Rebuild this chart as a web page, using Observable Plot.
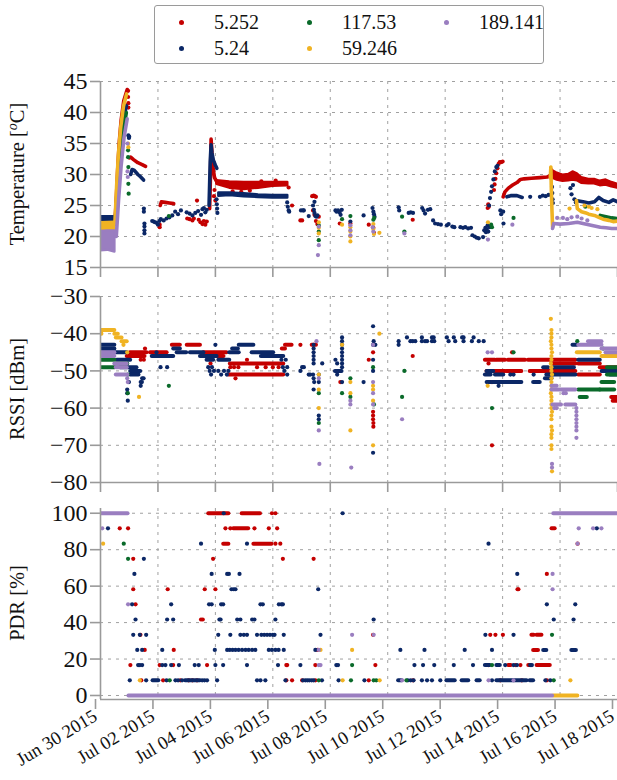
<!DOCTYPE html>
<html><head><meta charset="utf-8">
<script src="https://cdn.jsdelivr.net/npm/d3@7"></script>
<script src="https://cdn.jsdelivr.net/npm/@observablehq/plot@0.6"></script>
<style>
body{margin:0;background:#fff;font-family:"Liberation Serif","Tinos","DejaVu Serif",serif;}
#wrap{position:relative;width:617px;height:780px;overflow:hidden;background:#fff;}
#legend{position:absolute;left:154px;top:5px;width:390px;height:59px;border:1.5px solid #9a9a9a;border-radius:3px;box-sizing:border-box;}
.li{position:absolute;font-size:20px;line-height:20px;color:#111;}
.ld{position:absolute;width:5px;height:5px;border-radius:50%;}
#ylabels{position:absolute;left:0;top:0;}
</style></head>
<body><div id="wrap"><div id="legend"></div></div>
<script>
// ---------- series ----------
const series = ["5.252", "5.24", "117.53", "59.246", "189.141"];
const colors = ["#c40000", "#0b2766", "#0a6a2a", "#f0b323", "#9a7ec0"];
const legendCols = [0, 0, 1, 1, 2];
const legendRows = [0, 1, 0, 1, 0];
// x axis: days since Jun 30 2015
const xTickDays = [0, 2, 4, 6, 8, 10, 12, 14, 16, 18];
const xDomainDays = [0, 18];
// ---------- Temperature [°C] ----------
const tempTicks = [15, 20, 25, 30, 35, 40, 45];
// dense noisy bands: [series, id, day, low, high]
const tempBands = [
  ["5.24","a",0,22.3,23.2],["5.24","a",0.5,22.3,23.2],
  ["59.246","a",0,20.1,22.2],["59.246","a",0.5,20.2,22.3],
  ["189.141","a",0,17.7,20.8],["189.141","a",0.25,17.8,20.9],["189.141","a",0.5,17.5,20.9],
  ["5.252","p",4.05,28.4,29.0],["5.252","p",4.5,27.8,28.8],["5.252","p",5.0,27.6,28.7],["5.252","p",5.5,27.8,28.7],["5.252","p",6.0,28.1,28.7],["5.252","p",6.52,28.2,28.7],
  ["5.24","p",4.12,26.5,27.0],["5.24","p",4.5,26.6,27.0],["5.24","p",5.0,26.4,26.9],["5.24","p",5.5,26.3,26.7],["5.24","p",6.0,26.2,26.6],["5.24","p",6.52,26.2,26.6],
  ["5.252","q",15.68,29.3,31.0],["5.252","q",15.75,29.4,30.6],["5.252","q",15.9,29.1,30.2],["5.252","q",16.1,28.9,29.9],["5.252","q",16.3,29.0,30.0],["5.252","q",16.45,29.1,30.4],["5.252","q",16.6,29.0,30.1],["5.252","q",16.75,28.6,29.5],["5.252","q",17.0,28.5,29.2],["5.252","q",17.2,28.5,29.2],["5.252","q",17.4,28.2,28.9],["5.252","q",17.6,28.3,29.1],["5.252","q",17.8,28.0,28.7],["5.252","q",18.0,27.8,28.4]
];
// dense traces: [series, id, day, °C]
const tempTraces = [
  ["5.252","r0",0.5,22.0],["5.252","r0",0.55,26],["5.252","r0",0.6,31],["5.252","r0",0.65,35],["5.252","r0",0.72,38.8],["5.252","r0",0.81,41.9],["5.252","r0",0.93,43.7],
  ["5.252","r1",1.0,32.7],["5.252","r1",1.05,32.8],["5.252","r1",1.15,32.4],["5.252","r1",1.3,31.9],["5.252","r1",1.45,31.6],["5.252","r1",1.57,31.3],
  ["5.252","r2",2.08,25.0],["5.252","r2",2.12,25.6],["5.252","r2",2.25,25.5],["5.252","r2",2.4,25.4],["5.252","r2",2.55,25.3],
  ["5.252","r3",3.8,24.5],["5.252","r3",3.83,30],["5.252","r3",3.85,35.7],["5.252","r3",3.88,33.5],["5.252","r3",3.92,31],["5.252","r3",3.97,29.5],["5.252","r3",4.05,28.8],
  ["5.252","r7",14.02,26.4],["5.252","r7",14.08,27.2],["5.252","r7",14.2,27.8],["5.252","r7",14.35,28.3],["5.252","r7",14.5,28.7],["5.252","r7",14.62,29.2],["5.252","r7",14.75,29.3],["5.252","r7",15.0,29.4],["5.252","r7",15.3,29.5],["5.252","r7",15.55,29.6],["5.252","r7",15.66,29.8],
  ["5.24","n0",0.52,23],["5.24","n0",0.6,29],["5.24","n0",0.68,34],["5.24","n0",0.77,38],["5.24","n0",0.9,41.1],
  ["5.24","n1",1.05,30.0],["5.24","n1",1.1,30.8],["5.24","n1",1.17,30.7],["5.24","n1",1.3,30.0],["5.24","n1",1.4,29.6],["5.24","n1",1.5,29.1],
  ["5.24","n2",3.78,25],["5.24","n2",3.82,32],["5.24","n2",3.85,34.8],["5.24","n2",3.88,33.5],["5.24","n2",3.93,32.3],["5.24","n2",4.0,31.5],["5.24","n2",4.05,31.0],
  ["5.24","n4",14.15,26.4],["5.24","n4",14.3,26.6],["5.24","n4",14.5,26.6],["5.24","n4",14.68,26.3],
  ["5.24","n5",16.55,25.8],["5.24","n5",16.8,25.6],["5.24","n5",17.0,25.4],["5.24","n5",17.2,25.6],["5.24","n5",17.35,26.3],["5.24","n5",17.5,25.8],["5.24","n5",17.7,25.5],["5.24","n5",17.85,25.9],["5.24","n5",18.0,25.6],
  ["117.53","g0",0.54,22],["117.53","g0",0.62,28],["117.53","g0",0.7,33],["117.53","g0",0.79,37],["117.53","g0",0.9,40],
  ["117.53","g1",17.4,23.4],["117.53","g1",17.6,23.2],["117.53","g1",17.8,23.0],["117.53","g1",18.0,22.9],
  ["59.246","y0",0.5,22],["59.246","y0",0.56,28],["59.246","y0",0.62,33],["59.246","y0",0.7,37.5],["59.246","y0",0.8,41],["59.246","y0",0.91,43],
  ["59.246","y1",15.66,29.5],["59.246","y1",15.68,31.2],["59.246","y1",15.7,27],["59.246","y1",15.72,24],["59.246","y1",15.74,21.5],
  ["59.246","y2",16.57,25.8],["59.246","y2",16.6,24.5],["59.246","y2",16.75,24.0],["59.246","y2",16.9,23.8],["59.246","y2",17.0,23.6],["59.246","y2",17.2,23.4],["59.246","y2",17.35,23.1],["59.246","y2",17.5,22.8],["59.246","y2",17.7,22.6],["59.246","y2",17.85,22.4],["59.246","y2",18.0,22.5],
  ["189.141","p0",0.55,20],["189.141","p0",0.63,26],["189.141","p0",0.72,31.5],["189.141","p0",0.82,36],["189.141","p0",0.93,39],
  ["189.141","p1",15.74,21.3],["189.141","p1",15.78,22.1],["189.141","p1",16.0,22.0],["189.141","p1",16.3,22.1],["189.141","p1",16.6,22.3],["189.141","p1",16.8,22.1],["189.141","p1",17.0,21.9],["189.141","p1",17.2,21.7],["189.141","p1",17.4,21.5],["189.141","p1",17.6,21.4],["189.141","p1",17.8,21.3],["189.141","p1",18.0,21.3]
];
// single readings: [series, day, °C]
const tempDots = [
  ["5.252",0.96,43.5],["5.252",0.96,42.5],["5.252",0.97,41.5],["5.252",0.97,40.8],["5.252",2.06,21.9],["5.252",2.06,21.5],
  ["5.252",3.02,22.9],["5.252",3.1,22.8],["5.252",3.2,22.6],["5.252",3.25,22.9],["5.252",3.36,25.8],["5.252",3.42,22.7],["5.252",3.48,22.3],["5.252",3.55,22.0],["5.252",3.6,22.5],["5.252",3.65,21.9],["5.252",3.7,22.4],
  ["5.252",3.95,26.5],["5.252",3.97,27.5],["5.252",4.0,25.8],["5.252",4.6,27.3],["5.252",4.9,27.2],["5.252",5.2,27.4],["5.252",5.6,28.9],["5.252",6.1,29.0],["5.252",6.55,27.9],
  ["5.252",6.67,25.0],["5.252",6.96,22.6],["5.252",7.02,22.6],["5.252",7.37,26.5],["5.252",7.42,26.6],["5.252",7.46,26.5],["5.252",7.5,26.4],["5.252",7.4,24.2],["5.252",7.45,23.5],["5.252",7.5,22.5],["5.252",7.55,22.0],["5.252",7.6,23.2],
  ["5.252",8.33,22.1],["5.252",8.7,22.1],["5.252",9.34,21.9],["5.252",9.5,21.4],["5.252",9.52,20.6],["5.252",10.87,22.7],
  ["5.252",13.48,24.6],["5.252",13.5,25.2],["5.252",13.52,24.8],["5.252",13.7,27.5],["5.252",13.72,28.4],["5.252",13.75,29.3],["5.252",13.78,30.2],["5.252",13.82,31.0],["5.252",13.86,31.7],["5.252",13.9,32.0],["5.252",13.95,32.0],["5.252",14.0,32.1],
  ["5.24",0.97,36.3],["5.24",0.99,35.9],["5.24",1.0,36.1],["5.24",1.51,24.5],["5.24",1.51,24.0],["5.24",1.53,22.1],["5.24",1.53,21.6],["5.24",1.53,21.0],["5.24",1.53,20.5],
  ["5.24",1.8,22.5],["5.24",1.85,22.4],["5.24",1.9,22.3],["5.24",1.95,22.2],["5.24",2.0,21.9],["5.24",2.05,22.5],["5.24",2.1,22.8],["5.24",2.2,22.6],["5.24",2.3,22.9],["5.24",2.4,23.1],["5.24",2.5,23.4],["5.24",2.6,24.0],["5.24",2.7,23.6],["5.24",2.8,24.2],
  ["5.24",3.0,23.9],["5.24",3.1,23.7],["5.24",3.2,23.4],["5.24",3.3,23.8],["5.24",3.4,24.1],["5.24",3.5,23.5],["5.24",3.55,24.4],["5.24",3.6,24.6],["5.24",3.65,23.9],["5.24",3.7,24.3],
  ["5.24",4.04,26.0],["5.24",4.05,25.2],["5.24",4.06,24.5],["5.24",4.07,23.8],
  ["5.24",6.5,25.5],["5.24",6.52,24.8],["5.24",6.55,24.2],["5.24",6.57,24.0],["5.24",6.98,24.2],["5.24",7.05,24.2],["5.24",7.08,24.2],["5.24",7.25,23.3],["5.24",7.4,25.0],["5.24",7.43,24.3],["5.24",7.45,23.8],["5.24",7.48,23.3],["5.24",7.52,23.2],["5.24",7.55,23.4],["5.24",7.45,25.6],
  ["5.24",8.18,24.2],["5.24",8.22,24.0],["5.24",8.27,24.2],["5.24",8.32,23.9],["5.24",8.36,23.5],["5.24",8.4,24.3],["5.24",8.7,22.4],["5.24",9.16,23.4],["5.24",9.47,24.6],["5.24",9.5,24.0],["5.24",9.52,23.6],["5.24",9.54,23.2],
  ["5.24",10.38,24.7],["5.24",10.4,24.2],["5.24",10.73,23.8],["5.24",10.8,23.9],["5.24",10.88,23.8],["5.24",11.2,24.6],["5.24",11.25,24.2],["5.24",11.3,23.7],["5.24",11.4,24.3],["5.24",11.48,24.4],["5.24",11.58,22.6],["5.24",11.65,22.1],["5.24",11.75,22.0],["5.24",11.85,21.9],
  ["5.24",12.06,21.8],["5.24",12.12,22.0],["5.24",12.25,21.6],["5.24",12.32,21.5],["5.24",12.53,21.5],["5.24",12.62,21.4],["5.24",12.7,21.5],["5.24",12.8,21.3],["5.24",12.9,21.4],["5.24",12.95,20.2],["5.24",13.03,20.0],["5.24",13.1,19.8],["5.24",13.17,19.7],["5.24",13.32,19.9],
  ["5.24",13.36,21.0],["5.24",13.4,21.4],["5.24",13.42,20.7],["5.24",13.45,21.2],["5.24",13.48,21.8],["5.24",13.5,20.8],["5.24",13.55,21.5],
  ["5.24",13.53,25.0],["5.24",13.56,26.2],["5.24",13.6,27.2],["5.24",13.63,28.1],["5.24",13.68,29.2],["5.24",13.73,30.5],["5.24",13.78,31.2],["5.24",13.82,31.4],
  ["5.24",13.92,24.2],["5.24",13.95,23.6],["5.24",14.02,24.0],["5.24",14.03,22.1],
  ["5.24",14.96,26.4],["5.24",15.3,26.4],["5.24",15.4,26.6],["5.24",15.5,26.5],["5.24",15.6,26.7],
  ["5.24",15.72,28],["5.24",15.73,27],["5.24",15.74,26],["5.24",15.75,25.4],["5.24",16.36,27.8],["5.24",16.4,26.8],["5.24",16.45,28.3],["5.24",16.5,26.0],["5.24",16.55,25.5],
  ["117.53",0.96,33.9],["117.53",0.96,32.8],["117.53",0.97,31.2],["117.53",0.97,28.5],["117.53",0.98,26.9],["117.53",2.38,23.3],
  ["117.53",7.6,21.8],["117.53",7.6,20.8],["117.53",7.6,19.4],["117.53",8.41,22.8],["117.53",8.7,23.3],["117.53",9.5,22.7],["117.53",9.53,23.0],["117.53",10.5,23.2],["117.53",10.58,20.8],
  ["117.53",13.63,21.5],["117.53",13.6,21.9],["117.53",14.38,23.0],["117.53",16.88,24.8],
  ["59.246",0.96,35],["59.246",0.97,34.4],["59.246",7.6,22.3],["59.246",7.6,21.4],["59.246",7.6,20.5],["59.246",8.41,21.9],["59.246",8.7,21.5],["59.246",8.7,20.8],["59.246",8.7,20.0],["59.246",8.7,19.2],
  ["59.246",9.5,22.0],["59.246",9.5,21.2],["59.246",9.52,20.4],["59.246",9.71,20.6],["59.246",13.49,22.3],["59.246",16.33,24.5],
  ["59.246",16.85,25.0],["59.246",17.0,24.8],["59.246",17.1,24.6],["59.246",17.3,24.4],
  ["189.141",0.94,30.5],["189.141",0.95,29.6],["189.141",0.94,35],["189.141",7.6,21.6],["189.141",7.6,18.6],["189.141",7.57,17.0],["189.141",8.7,21.8],["189.141",8.7,21.0],["189.141",8.7,20.2],
  ["189.141",9.48,21.5],["189.141",9.5,20.8],["189.141",10.58,20.5],["189.141",13.49,19.5],["189.141",14.34,21.9],
  ["189.141",15.9,23.0],["189.141",16.1,23.0],["189.141",16.25,22.8],["189.141",16.4,23.1],["189.141",16.6,23.2],["189.141",16.75,22.9],["189.141",16.95,22.6]
];
// ---------- RSSI [dBm] ----------
const rssiTicks = [-80, -70, -60, -50, -40, -30];
// runs of consecutive equal readings: [series, day from, day to, dBm]
const rssiRuns = [
  ["5.252",0.93,1.55,-46],["5.252",1.04,1.62,-45],["5.252",1.74,2.32,-45],["5.252",2.5,2.78,-43],["5.252",3.02,3.48,-43],["5.252",3.6,3.95,-45],["5.252",3.6,3.9,-46],["5.252",4.0,4.4,-45],["5.252",4.0,4.3,-46],
  ["5.252",4.47,6.38,-51],["5.252",4.52,6.38,-48],["5.252",6.33,6.44,-44],["5.252",6.44,6.67,-43],["5.252",7.37,7.52,-43],
  ["5.252",13.4,13.75,-47],["5.252",13.8,14.1,-47],["5.252",14.2,14.8,-47],["5.252",14.9,16.55,-47],["5.252",13.46,13.6,-50],["5.252",13.7,14.1,-50],["5.252",14.15,14.67,-50],["5.252",14.96,16.55,-50],["5.252",15.75,16.55,-48],
  ["5.252",16.65,17.4,-48],["5.252",16.65,17.4,-51],["5.252",17.4,18.0,-49],["5.252",17.8,18.0,-57],["5.252",17.85,18.0,-58],
  ["5.24",0,0.5,-43],["5.24",0,0.5,-44],["5.24",0,0.93,-45],["5.24",0.58,1.05,-47],["5.24",0.7,1.27,-49],["5.24",1.05,1.4,-50],["5.24",1.05,1.34,-51],
  ["5.24",1.8,2.55,-46],["5.24",2.55,2.78,-44],["5.24",2.67,3.0,-45],["5.24",3.13,3.6,-45],["5.24",3.48,4.06,-46],["5.24",3.71,3.94,-47],["5.24",4.12,4.5,-47],["5.24",4.5,4.83,-45],["5.24",4.6,4.8,-44],["5.24",4.83,5.34,-43],["5.24",5.28,6.03,-45],["5.24",5.6,6.38,-46],
  ["5.24",8.18,8.41,-50],["5.24",13.46,13.69,-50],["5.24",13.4,13.6,-51],["5.24",13.75,14.04,-51],["5.24",13.46,13.6,-53],["5.24",13.65,14.67,-53],["5.24",15.08,15.31,-53],["5.24",15.49,15.72,-52],["5.24",15.43,15.6,-49],
  ["5.24",15.54,16.55,-51],["5.24",15.78,16.5,-49],["5.24",16.45,16.6,-43],["5.24",16.65,17.4,-47],["5.24",17.46,18.0,-50],["5.24",17.75,18.0,-51],
  ["117.53",0,0.5,-47],["117.53",0,0.5,-49],["117.53",0.52,0.95,-48],["117.53",16.65,17.4,-55],["117.53",16.7,16.95,-57],["117.53",17.46,17.9,-53],["117.53",17.4,17.9,-55],["117.53",17.65,18.0,-51],["117.53",17.65,18.0,-49],
  ["59.246",0,0.5,-39],["59.246",0.5,0.62,-40],["59.246",0.55,0.75,-41],["59.246",0.75,0.93,-42],["59.246",16.6,17.4,-45],["59.246",17.46,18.0,-46],
  ["189.141",0,0.5,-45],["189.141",0,0.5,-46],["189.141",0.5,0.93,-48],["189.141",0.55,0.93,-49],["189.141",0.55,0.95,-51],
  ["189.141",15.72,16.55,-55],["189.141",15.72,15.9,-54],["189.141",15.75,16.05,-59],["189.141",16.2,16.55,-59],["189.141",16.65,17.46,-43],["189.141",16.99,17.46,-42],["189.141",17.46,18.0,-44],["189.141",17.6,18.0,-45]
];
// single readings: [series, day, dBm]
const rssiDots = [
  ["5.252",1.55,-44],["5.252",1.51,-47],["5.252",1.4,-47],["5.252",3.83,-48],["5.252",4.52,-49],["5.252",4.65,-49],["5.252",4.8,-49],["5.252",4.7,-52],["5.252",5.1,-47],["5.252",5.45,-49],["5.252",5.75,-49],["5.252",6.0,-49],["5.252",6.2,-49],["5.252",6.96,-43],
  ["5.252",8.35,-53],["5.252",9.34,-47],["5.252",9.49,-45],["5.252",9.49,-61],["5.252",9.49,-62],["5.252",9.49,-63],["5.252",9.5,-64],["5.252",9.5,-65],["5.252",10.87,-46],
  ["5.252",13.51,-48],["5.252",13.63,-53],["5.252",13.63,-70],["5.252",14.33,-45],
  ["5.24",1.45,-52],["5.24",1.4,-53],["5.24",1.5,-52],["5.24",0.99,-53],["5.24",0.93,-55],["5.24",0.93,-56],["5.24",0.95,-58],["5.24",1.4,-54],["5.24",1.44,-53],
  ["5.24",1.95,-45],["5.24",2.09,-49],["5.24",2.32,-49],["5.24",3.75,-49],["5.24",3.8,-50],["5.24",3.85,-51],["5.24",3.95,-50],["5.24",3.88,-49],["5.24",4.0,-43],
  ["5.24",4.1,-50],["5.24",4.2,-51],["5.24",4.3,-50],["5.24",4.4,-51],["5.24",4.45,-50],["5.24",6.3,-47],["5.24",6.35,-49],["5.24",6.4,-50],["5.24",6.45,-47],["5.24",6.5,-51],["5.24",6.5,-49],
  ["5.24",7.02,-49],["5.24",7.08,-49],["5.24",6.96,-50],["5.24",7.25,-51],["5.24",7.3,-51],["5.24",7.42,-43],["5.24",7.42,-44],["5.24",7.42,-45],["5.24",7.42,-46],["5.24",7.42,-47],["5.24",7.42,-48],["5.24",7.4,-51],["5.24",7.42,-52],["5.24",7.44,-53],["5.24",7.42,-55],["5.24",7.6,-51],["5.24",7.6,-53],["5.24",7.6,-62],["5.24",7.6,-63],["5.24",7.72,-48],
  ["5.24",8.18,-47],["5.24",8.24,-48],["5.24",8.41,-41],["5.24",8.41,-42],["5.24",8.41,-43],["5.24",8.41,-44],["5.24",8.41,-45],["5.24",8.41,-46],["5.24",8.41,-47],["5.24",8.41,-48],["5.24",8.41,-49],["5.24",8.24,-51],["5.24",8.41,-53],["5.24",9.16,-53],
  ["5.24",9.49,-38],["5.24",9.51,-42],["5.24",9.49,-43],["5.24",9.49,-47],["5.24",9.49,-50],["5.24",9.49,-72],["5.24",9.57,-43],["5.24",10.38,-42],["5.24",10.38,-43],
  ["5.24",10.67,-41],["5.24",11.19,-41],["5.24",11.54,-41],["5.24",11.6,-41],["5.24",12.06,-41],["5.24",12.3,-41],["5.24",12.59,-41],["5.24",12.64,-41],["5.24",12.99,-41],
  ["5.24",10.79,-42],["5.24",10.87,-42],["5.24",10.96,-42],["5.24",11.19,-42],["5.24",11.3,-42],["5.24",11.37,-42],["5.24",11.54,-42],["5.24",11.62,-42],["5.24",12.12,-42],["5.24",12.35,-42],["5.24",12.64,-42],["5.24",12.93,-42],["5.24",13.17,-42],["5.24",13.34,-42],
  ["5.24",13.86,-54],["5.24",14.27,-51],["5.24",14.38,-51],["5.24",15.08,-51],
  ["117.53",0.95,-51],["117.53",0.95,-56],["117.53",2.38,-54],["117.53",8.41,-56],["117.53",8.7,-52],["117.53",8.7,-57],["117.53",9.49,-49],["117.53",9.52,-59],["117.53",10.58,-50],["117.53",10.5,-57],
  ["117.53",14.38,-45],["117.53",13.63,-60],["117.53",16.6,-42],["117.53",17.5,-44],["117.53",7.6,-56],["117.53",7.6,-64],
  ["59.246",0.93,-45],["59.246",1.34,-57],["59.246",0.03,-40],["59.246",0.8,-43],["59.246",7.6,-51],["59.246",7.6,-55],["59.246",7.6,-60],["59.246",8.41,-43],["59.246",8.7,-53],["59.246",8.7,-56],["59.246",8.7,-66],
  ["59.246",9.71,-40],["59.246",9.49,-54],["59.246",9.49,-55],["59.246",9.49,-58],["59.246",9.49,-70],["59.246",13.48,-54],
  ["59.246",15.68,-36],["59.246",15.7,-39],["59.246",15.7,-40],["59.246",15.7,-41],["59.246",15.68,-42],["59.246",15.7,-43],["59.246",15.7,-44],["59.246",15.72,-45],["59.246",15.7,-46],["59.246",15.7,-47],["59.246",15.68,-48],["59.246",15.7,-49],["59.246",15.7,-50],["59.246",15.72,-51],["59.246",15.7,-52],["59.246",15.7,-53],["59.246",15.7,-54],["59.246",15.7,-55],["59.246",15.68,-56],["59.246",15.7,-57],["59.246",15.7,-58],["59.246",15.7,-59],["59.246",15.7,-60],["59.246",15.72,-61],["59.246",15.7,-62],["59.246",15.7,-63],["59.246",15.7,-65],["59.246",15.72,-66],["59.246",15.7,-67],["59.246",15.7,-68],["59.246",15.7,-70],["59.246",15.7,-71],["59.246",15.72,-77],
  ["189.141",0.93,-52],["189.141",0.95,-53],["189.141",7.52,-42],["189.141",7.6,-52],["189.141",7.6,-66],["189.141",7.62,-75],["189.141",8.7,-58],["189.141",8.7,-59],["189.141",8.73,-76],["189.141",9.49,-43],["189.141",9.49,-53],["189.141",9.49,-56],["189.141",9.49,-59],["189.141",10.5,-63],
  ["189.141",13.48,-45],["189.141",13.63,-45],["189.141",15.72,-76],["189.141",15.72,-75],["189.141",16.12,-56],["189.141",16.2,-56],["189.141",15.8,-60],["189.141",15.88,-60],
  ["189.141",16.57,-60],["189.141",16.57,-61],["189.141",16.57,-62],["189.141",16.57,-63],["189.141",16.57,-64],["189.141",16.57,-65],["189.141",16.57,-66],["189.141",16.57,-68]
];
// ---------- PDR [%] ----------
const pdrTicks = [0, 20, 40, 60, 80, 100];
const pdrRuns = [
  ["5.252",3.77,4.47,100],["5.252",4.93,5.57,100],["5.252",4.64,5.16,91.7],["5.252",5.34,5.97,83.3],["5.252",4.29,4.47,83.3],
  ["5.252",14.91,15.0,16.7],["5.252",15.2,15.66,16.7],["5.252",15.02,15.1,33.3],["5.252",15.2,15.37,33.3],["5.252",15.08,15.25,25],["5.252",15.72,15.83,91.7],["5.252",14.21,14.3,16.7],
  ["5.24",1.83,2.03,8.3],["5.24",2.96,3.48,8.3],["5.24",10.38,10.5,8.3],["5.24",12.06,12.35,8.3],["5.24",12.59,12.82,8.3],["5.24",13.11,13.22,8.3],["5.24",13.8,14.85,8.3],["5.24",14.96,15.08,8.3],["5.24",13.4,13.57,16.7],["5.24",13.8,13.92,16.7],["5.24",15.43,15.54,25],["5.24",16.41,16.57,25],
  ["59.246",15.78,16.62,0],
  ["189.141",0,0.96,100],["189.141",0.99,15.74,0],["189.141",15.78,18.0,100]
];
const pdrDots = [
  ["5.252",0.67,91.7],["5.252",0.96,91.7],["5.252",1.14,75],["5.252",1.14,58.3],["5.252",1.22,50],["5.252",1.04,16.7],["5.252",1.39,33.3],["5.252",1.54,25],["5.252",1.42,8.3],
  ["5.252",2.06,16.7],["5.252",2.18,8.3],["5.252",2.34,58.3],["5.252",2.55,25],["5.252",2.53,16.7],["5.252",2.78,8.3],["5.252",3.07,8.3],["5.252",3.2,8.3],["5.252",3.36,8.3],["5.252",3.5,41.7],["5.252",3.56,41.7],["5.252",3.63,58.3],["5.252",3.71,16.7],["5.252",3.92,75],["5.252",4.0,58.3],
  ["5.252",4.35,91.7],["5.252",4.52,91.7],["5.252",5.36,91.7],["5.252",5.86,91.7],["5.252",6.15,91.7],["5.252",5.97,100],["5.252",6.09,100],["5.252",6.09,83.3],["5.252",6.26,83.3],["5.252",6.35,75],["5.252",6.47,16.7],["5.252",6.5,16.7],["5.252",6.47,8.3],["5.252",6.67,8.3],
  ["5.252",7.02,8.3],["5.252",7.48,8.3],["5.252",7.48,16.7],["5.252",7.56,25],["5.252",7.42,75],["5.252",9.34,8.3],["5.252",9.57,16.7],["5.252",9.49,33.3],["5.252",10.88,8.3],
  ["5.252",13.51,16.7],["5.252",13.57,33.3],["5.252",13.75,33.3],["5.252",14.01,33.3],["5.252",13.92,8.3],["5.252",14.67,8.3],["5.252",14.52,58.3],["5.252",14.55,58.3],["5.252",15.54,8.3],["5.252",15.54,66.7],["5.252",16.61,83.3],["5.252",14.45,16.7],["5.252",14.62,16.7],
  ["5.24",0.26,91.7],["5.24",1.51,75],["5.24",1.18,66.7],["5.24",1.1,50],["5.24",1.22,41.7],["5.24",1.14,33.3],["5.24",1.37,33.3],["5.24",1.59,33.3],["5.24",1.28,25],["5.24",1.45,25],["5.24",1.31,16.7],["5.24",1.37,16.7],["5.24",1.45,16.7],["5.24",1.02,8.3],["5.24",1.59,8.3],
  ["5.24",2.15,25],["5.24",2.15,16.7],["5.24",2.26,16.7],["5.24",2.3,8.3],["5.24",2.32,41.7],["5.24",2.53,41.7],["5.24",2.46,50],["5.24",2.46,16.7],["5.24",2.73,16.7],["5.24",2.61,8.3],["5.24",2.7,8.3],["5.24",2.84,8.3],
  ["5.24",3.28,16.7],["5.24",3.42,16.7],["5.24",3.5,83.3],["5.24",3.87,66.7],["5.24",3.78,50],["5.24",3.87,50],["5.24",3.98,25],["5.24",4.0,16.7],["5.24",3.54,8.3],["5.24",3.62,8.3],["5.24",3.71,8.3],["5.24",4.06,8.3],["5.24",4.29,100],
  ["5.24",4.1,33.3],["5.24",4.14,41.7],["5.24",4.18,41.7],["5.24",4.2,50],["5.24",4.27,50],["5.24",4.27,16.7],
  ["5.24",4.41,66.7],["5.24",4.47,66.7],["5.24",4.84,66.7],["5.24",4.56,58.3],["5.24",4.64,58.3],["5.24",4.7,58.3],["5.24",5.1,83.3],
  ["5.24",5.57,50],["5.24",5.65,50],["5.24",6.21,50],["5.24",6.3,50],["5.24",6.35,50],["5.24",4.76,41.7],["5.24",4.87,41.7],["5.24",5.28,41.7],["5.24",5.36,41.7],["5.24",6.09,41.7],
  ["5.24",4.52,33.3],["5.24",4.87,33.3],["5.24",4.99,33.3],["5.24",5.1,33.3],["5.24",5.45,33.3],["5.24",5.6,33.3],["5.24",5.7,33.3],["5.24",5.8,33.3],["5.24",5.9,33.3],["5.24",6.0,33.3],["5.24",6.06,33.3],["5.24",6.38,33.3],
  ["5.24",4.41,25],["5.24",4.5,25],["5.24",4.6,25],["5.24",4.7,25],["5.24",4.81,25],["5.24",4.93,25],["5.24",5.05,25],["5.24",5.16,25],["5.24",5.28,25],["5.24",5.39,25],["5.24",5.86,25],["5.24",5.97,25],["5.24",6.09,25],["5.24",6.2,25],["5.24",6.38,25],
  ["5.24",5.1,16.7],["5.24",6.18,16.7],["5.24",6.96,16.7],["5.24",5.45,8.3],["5.24",5.57,8.3],["5.24",5.74,8.3],["5.24",6.44,8.3],
  ["5.24",7.05,8.3],["5.24",7.13,8.3],["5.24",7.2,8.3],["5.24",7.27,8.3],["5.24",7.35,8.3],["5.24",7.42,8.3],["5.24",7.71,8.3],["5.24",7.58,58.3],["5.24",7.66,33.3],["5.24",7.48,25],
  ["5.24",8.21,16.7],["5.24",8.27,16.7],["5.24",8.29,8.3],["5.24",8.43,100],["5.24",9.19,8.3],["5.24",9.51,41.7],["5.24",10.44,25],["5.24",10.7,8.3],["5.24",10.8,8.3],["5.24",10.9,8.3],
  ["5.24",10.93,16.7],["5.24",11.23,16.7],["5.24",11.62,16.7],["5.24",12.3,16.7],["5.24",12.97,16.7],["5.24",11.28,25],["5.24",12.68,25],
  ["5.24",11.19,8.3],["5.24",11.37,8.3],["5.24",11.54,8.3],["5.24",11.83,8.3],["5.24",13.63,8.3],["5.24",15.49,8.3],["5.24",15.66,8.3],
  ["5.24",14.09,16.7],["5.24",14.38,16.7],["5.24",14.5,16.7],["5.24",14.96,16.7],["5.24",15.02,16.7],["5.24",13.63,25],["5.24",13.4,33.3],["5.24",14.38,33.3],
  ["5.24",15.78,41.7],["5.24",16.47,41.7],["5.24",15.54,50],["5.24",16.53,50],["5.24",14.51,66.7],["5.24",13.51,83.3],["5.24",17.28,91.7],
  ["117.53",0.81,83.3],["117.53",0.96,75],["117.53",2.41,8.3],["117.53",7.6,8.3],["117.53",8.72,8.3],["117.53",8.76,16.7],["117.53",9.51,8.3],["117.53",9.6,8.3],["117.53",10.65,8.3],["117.53",13.63,16.7],["117.53",15.72,33.3],["117.53",15.78,8.3],
  ["59.246",0.09,83.3],["59.246",1.37,8.3],["59.246",7.66,25],["59.246",8.43,8.3],["59.246",8.76,25],["59.246",9.72,8.3],["59.246",16.36,8.3],
  ["189.141",0.06,91.7],["189.141",0.96,50],["189.141",7.6,25],["189.141",7.6,16.7],["189.141",7.66,16.7],["189.141",8.76,33.3],["189.141",9.51,33.3],["189.141",10.5,8.3],["189.141",13.51,8.3],["189.141",14.38,8.3],
  ["189.141",15.74,66.7],["189.141",15.74,58.3],["189.141",16.61,83.3],["189.141",16.65,91.7],["189.141",17.15,91.7],["189.141",17.44,91.7]
];

// ---------- build ----------
const START = Date.UTC(2015, 5, 30);
const toDate = d => new Date(START + d * 864e5);
const rows = (arr, keys) => arr.map(r => Object.fromEntries(keys.map((k, i) => [k, (k === "d" || k === "d1" || k === "d2") ? toDate(r[i]) : r[i]])));
const xTicks = xTickDays.map(toDate);
const fmt = d3.utcFormat("%b %d %Y");
const FONT = "'Liberation Serif', Tinos, 'DejaVu Serif', serif";
const GRID = "#a0a0a0";
const AXIS = "#9a9a9a";

function panel(o) {
  const bands = rows(o.bands || [], ["s","id","d","lo","hi"]);
  const traces = rows(o.traces || [], ["s","id","d","v"]);
  const runs = rows(o.runs || [], ["s","d1","d2","v"]);
  const dots = rows(o.dots || [], ["s","d","v"]);
  const marks = [
    Plot.gridY(o.ticks, {stroke: GRID, strokeOpacity: 1, strokeDasharray: "3,5", strokeWidth: 1}),
    Plot.gridX(xTicks, {stroke: GRID, strokeOpacity: 1, strokeDasharray: "3,5", strokeWidth: 1})
  ];
  series.forEach((s, i) => {
    const c = colors[i];
    const f = r => r.s === s;
    marks.push(Plot.areaY(bands.filter(f), {x: "d", y1: "lo", y2: "hi", z: "id", fill: c, stroke: c, strokeWidth: 2.5, strokeLinejoin: "round", clip: true}));
    marks.push(Plot.line(traces.filter(f), {x: "d", y: "v", z: "id", stroke: c, strokeWidth: 3.6, strokeLinecap: "round", strokeLinejoin: "round", clip: true}));
    marks.push(Plot.ruleY(runs.filter(f), {y: "v", x1: "d1", x2: "d2", stroke: c, strokeWidth: 4, strokeLinecap: "round", clip: true}));
    marks.push(Plot.dot(dots.filter(f), {x: "d", y: "v", r: 2.1, fill: c, clip: true}));
  });
  marks.push(
    Plot.ruleY([o.domain[0]], {stroke: AXIS, strokeWidth: 1.6}),
    Plot.ruleX([toDate(xDomainDays[0])], {stroke: AXIS, strokeWidth: 1.6}),
    Plot.axisY(o.ticks, {tickSize: 10, tickPadding: 3, stroke: AXIS, strokeWidth: 1.6, label: null, fontSize: 24, fill: "#111"}),
    o.showX
      ? Plot.axisX(xTicks, {tickSize: 10, tickPadding: 5, stroke: AXIS, strokeWidth: 1.6, label: null, tickFormat: fmt, tickRotate: -31, fontSize: 18.5, fill: "#111", dx: -5})
      : Plot.axisX(xTicks, {tickSize: 10, stroke: AXIS, strokeWidth: 1.6, label: null, tickFormat: () => ""})
  );
  const svg = Plot.plot({
    width: 617, height: o.height,
    marginLeft: 100, marginRight: 0, marginTop: o.mt, marginBottom: o.mb,
    x: {type: "utc", domain: xDomainDays.map(toDate)},
    y: {domain: o.domain},
    style: {fontFamily: FONT, fontSize: "20px", background: "transparent", color: "#111", overflow: "visible"},
    marks
  });
  svg.setAttribute("font-family", FONT);
  svg.style.position = "absolute";
  svg.style.left = "0px";
  svg.style.top = o.top + "px";
  document.getElementById("wrap").appendChild(svg);
}

panel({top: 66, height: 213, mt: 15, mb: 12, domain: [15, 45], ticks: tempTicks, bands: tempBands, traces: tempTraces, dots: tempDots});
panel({top: 281, height: 213, mt: 15, mb: 12, domain: [-80, -30], ticks: rssiTicks, runs: rssiRuns, dots: rssiDots});
panel({top: 494, height: 286, mt: 14, mb: 81, domain: [-2.2, 102.6], ticks: pdrTicks, runs: pdrRuns, dots: pdrDots, showX: true});

// y labels
const ns = "http://www.w3.org/2000/svg";
const lab = document.createElementNS(ns, "svg");
lab.setAttribute("width", 40); lab.setAttribute("height", 780);
lab.setAttribute("id", "ylabels");
lab.style.position = "absolute";
lab.innerHTML =
  `<g font-family="${FONT.replace(/'/g, "&quot;")}" font-size="20.5" fill="#111" text-anchor="middle">
    <text transform="translate(24,174) rotate(-90)">Temperature [<tspan font-style="italic" font-size="14" dy="-7">o</tspan><tspan dy="7">C]</tspan></text>
    <text transform="translate(24,389) rotate(-90)">RSSI [dBm]</text>
    <text transform="translate(24,603) rotate(-90)">PDR [%]</text>
  </g>`;
document.getElementById("wrap").appendChild(lab);

// legend
const lg = document.getElementById("legend");
series.forEach((s, i) => {
  const cx = [26, 154, 291][legendCols[i]];
  const tx = [59, 187, 324][legendCols[i]];
  const cy = [16, 42][legendRows[i]];
  const dot = document.createElement("div");
  dot.className = "ld";
  dot.style.background = colors[i];
  dot.style.left = (cx - 2.5) + "px";
  dot.style.top = (cy - 2.5) + "px";
  lg.appendChild(dot);
  const t = document.createElement("div");
  t.className = "li";
  t.textContent = s;
  t.style.left = tx + "px";
  t.style.top = (cy - 10) + "px";
  lg.appendChild(t);
});
</script></body></html>
